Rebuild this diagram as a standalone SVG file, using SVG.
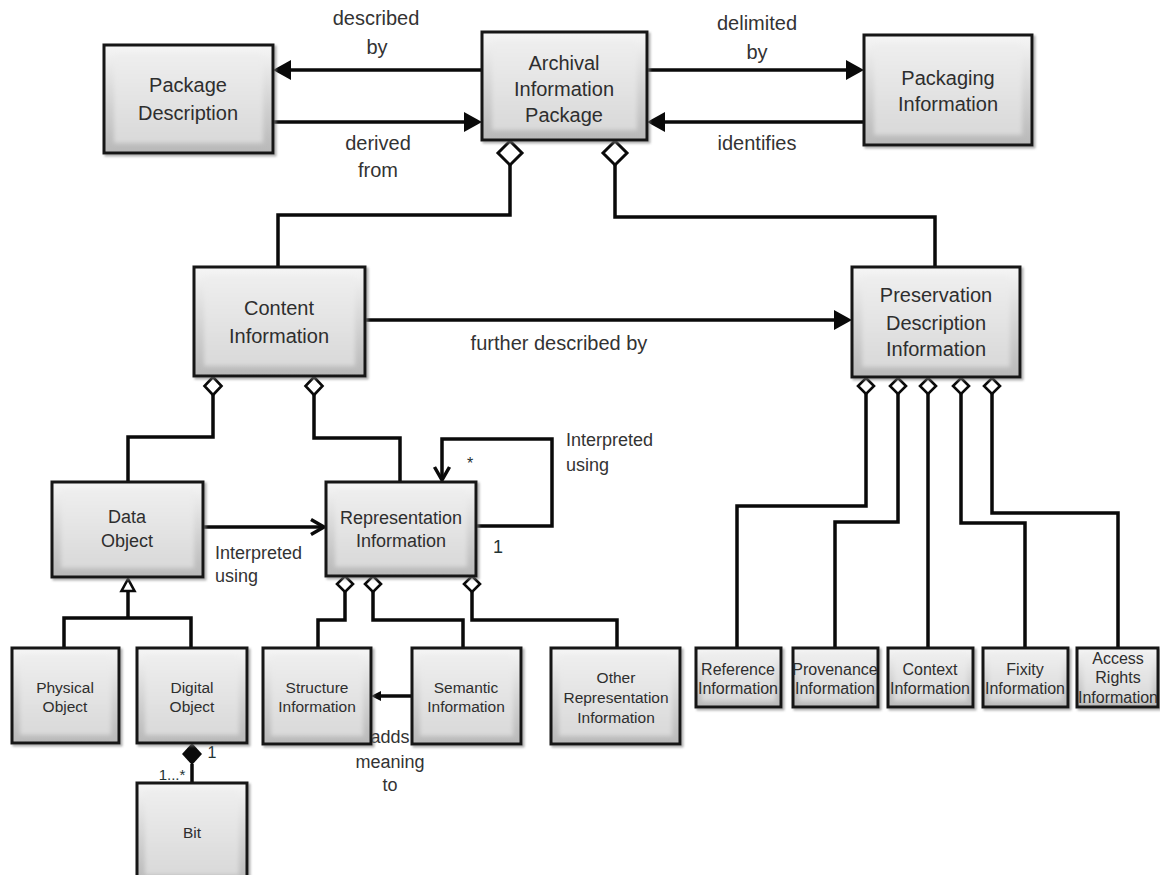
<svg xmlns="http://www.w3.org/2000/svg" width="1160" height="875" viewBox="0 0 1160 875">
  <defs>
    <linearGradient id="edge" x1="0" y1="0" x2="0" y2="1">
      <stop offset="0" stop-color="#f6f6f6"/>
      <stop offset="0.55" stop-color="#d2d2d2"/>
      <stop offset="1" stop-color="#b8b8b8"/>
    </linearGradient>
    <linearGradient id="face" x1="0" y1="0" x2="0" y2="1">
      <stop offset="0" stop-color="#eeeeee"/>
      <stop offset="1" stop-color="#d9d9d9"/>
    </linearGradient>
    <filter id="shadow" x="-10%" y="-10%" width="130%" height="130%">
      <feDropShadow dx="2" dy="2" stdDeviation="1.2" flood-color="#7a7a7a" flood-opacity="0.6"/>
    </filter>
    <filter id="soft" x="-30%" y="-30%" width="160%" height="160%">
      <feGaussianBlur stdDeviation="2.2"/>
    </filter>
    <!-- filled arrowhead, tip sits 16 units past the path end -->
    <marker id="arrow" markerUnits="userSpaceOnUse" orient="auto" refX="2" refY="10" markerWidth="18" markerHeight="20" overflow="visible">
      <path d="M0,0 L18,10 L0,20 Z" fill="#0a0a0a"/>
    </marker>
    <!-- small filled arrowhead, tip sits 9 units past the path end -->
    <marker id="arrowSm" markerUnits="userSpaceOnUse" orient="auto" refX="1" refY="5" markerWidth="10" markerHeight="10" overflow="visible">
      <path d="M0,0 L10,5 L0,10 Z" fill="#0a0a0a"/>
    </marker>
    <!-- open (stick) arrowhead -->
    <marker id="open" markerUnits="userSpaceOnUse" orient="auto" refX="14" refY="8" markerWidth="16" markerHeight="16" overflow="visible">
      <path d="M1,0.5 L14,8 L1,15.5" fill="none" stroke="#0a0a0a" stroke-width="3.5"/>
    </marker>
    <!-- hollow aggregation diamonds, placed at the start of a path -->
    <marker id="aggLg" markerUnits="userSpaceOnUse" orient="auto" refX="0" refY="0" markerWidth="26" markerHeight="28" overflow="visible">
      <path d="M0,0 L12,-12 L24,0 L12,12 Z" fill="#ffffff" stroke="#0a0a0a" stroke-width="3" stroke-linejoin="miter"/>
    </marker>
    <marker id="agg" markerUnits="userSpaceOnUse" orient="auto" refX="0" refY="0" markerWidth="20" markerHeight="20" overflow="visible">
      <path d="M0,0 L9,-8.5 L18,0 L9,8.5 Z" fill="#ffffff" stroke="#0a0a0a" stroke-width="2.6" stroke-linejoin="miter"/>
    </marker>
    <marker id="aggSm" markerUnits="userSpaceOnUse" orient="auto" refX="0" refY="0" markerWidth="18" markerHeight="18" overflow="visible">
      <path d="M0,0 L8,-8 L16,0 L8,8 Z" fill="#ffffff" stroke="#0a0a0a" stroke-width="2.6" stroke-linejoin="miter"/>
    </marker>
  </defs>

  <style>
    .edge { fill: url(#edge); stroke: #141414; stroke-width: 3; filter: url(#shadow); }
    .face { fill: url(#face); filter: url(#soft); }
    text { font-family: "Liberation Sans", Arial, sans-serif; fill: #2e2e2e; text-anchor: middle; }
    .t20 { font-size: 20px; }
    .t18 { font-size: 18px; }
    .t16 { font-size: 16px; }
    .t15 { font-size: 15.5px; }
    .lbl { font-size: 20px; fill: #333333; }
    .lbl18 { font-size: 18px; fill: #333333; }
    .left { text-anchor: start; }
    .mult { font-size: 16px; fill: #233333; }
    .wire { fill: none; stroke: #0a0a0a; stroke-width: 3.5; stroke-linejoin: miter; stroke-linecap: butt; }
  </style>

  <rect width="1160" height="875" fill="#ffffff"/>

  <!-- connectors -->
  <g id="connectors">
    <!-- package level -->
    <path class="wire" d="M482,70 H289" marker-end="url(#arrow)"/>
    <path class="wire" d="M273,122 H466" marker-end="url(#arrow)"/>
    <path class="wire" d="M647,70 H848" marker-end="url(#arrow)"/>
    <path class="wire" d="M864,122 H663" marker-end="url(#arrow)"/>
    <path class="wire" d="M510,141 V215 H278 V267" marker-start="url(#aggLg)"/>
    <path class="wire" d="M615,141 V217 H935 V267" marker-start="url(#aggLg)"/>
    <!-- content / preservation -->
    <path class="wire" d="M365,320 H836" marker-end="url(#arrow)"/>
    <path class="wire" d="M213,377 V437 H128 V482" marker-start="url(#agg)"/>
    <path class="wire" d="M314,377 V438 H400 V482" marker-start="url(#agg)"/>
    <!-- data object / representation information -->
    <path class="wire" d="M203,527 H324" marker-end="url(#open)"/>
    <path class="wire" d="M476,526 H552 V439 H442 V480" marker-end="url(#open)"/>
    <!-- generalization of data object -->
    <path class="wire" d="M128,591 V618"/>
    <path class="wire" d="M64,648 V618 H191 V648"/>
    <polygon points="128,579 121.5,591 134.5,591" fill="#ffffff" stroke="#0a0a0a" stroke-width="2.6"/>
    <!-- composition digital object / bit -->
    <path class="wire" d="M192,764 V783"/>
    <polygon points="192,743 202,754 192,765 182,754" fill="#0a0a0a"/>
    <!-- parts of representation information -->
    <path class="wire" d="M345,576 V620 H318 V648" marker-start="url(#aggSm)"/>
    <path class="wire" d="M373,576 V620 H463 V648" marker-start="url(#aggSm)"/>
    <path class="wire" d="M472,576 V620 H617 V648" marker-start="url(#aggSm)"/>
    <path class="wire" d="M412,696 H380" marker-end="url(#arrowSm)"/>
    <!-- parts of preservation description information -->
    <path class="wire" d="M866,378 V506 H737 V648" marker-start="url(#aggSm)"/>
    <path class="wire" d="M898,378 V522 H835 V648" marker-start="url(#aggSm)"/>
    <path class="wire" d="M928,378 V648" marker-start="url(#aggSm)"/>
    <path class="wire" d="M961,378 V523 H1025 V648" marker-start="url(#aggSm)"/>
    <path class="wire" d="M992,378 V513 H1118 V648" marker-start="url(#aggSm)"/>
  </g>

  <!-- connector labels -->
  <g id="labels">
    <text class="lbl" x="376" y="25">described</text>
    <text class="lbl" x="377" y="54">by</text>
    <text class="lbl" x="378" y="150">derived</text>
    <text class="lbl" x="378" y="177">from</text>
    <text class="lbl" x="757" y="30">delimited</text>
    <text class="lbl" x="757" y="59">by</text>
    <text class="lbl" x="757" y="150">identifies</text>
    <text class="lbl" x="559" y="350">further described by</text>
    <text class="lbl18 left" x="215" y="559">Interpreted</text>
    <text class="lbl18 left" x="215" y="582">using</text>
    <text class="lbl18 left" x="566" y="446">Interpreted</text>
    <text class="lbl18 left" x="566" y="471">using</text>
    <text class="mult" x="470" y="469">*</text>
    <text class="mult" x="498" y="553" style="font-size:18px">1</text>
    <text class="mult" x="212" y="758">1</text>
    <text class="mult" x="172" y="780" style="font-size:15px">1...*</text>
    <text class="lbl18" x="390" y="743">adds</text>
    <text class="lbl18" x="390" y="768">meaning</text>
    <text class="lbl18" x="390" y="791">to</text>
  </g>

  <!-- nodes -->
  <g id="package-description">
    <rect class="edge" x="104" y="45" width="169" height="108"/>
    <rect class="face" x="114" y="55" width="149" height="88"/>
    <text class="t20" x="188" y="92">Package</text>
    <text class="t20" x="188" y="120">Description</text>
  </g>
  <g id="archival-information-package">
    <rect class="edge" x="482" y="32" width="165" height="108"/>
    <rect class="face" x="492" y="42" width="145" height="88"/>
    <text class="t20" x="564" y="70">Archival</text>
    <text class="t20" x="564" y="96">Information</text>
    <text class="t20" x="564" y="122">Package</text>
  </g>
  <g id="packaging-information">
    <rect class="edge" x="864" y="35" width="168" height="110"/>
    <rect class="face" x="874" y="45" width="148" height="90"/>
    <text class="t20" x="948" y="85">Packaging</text>
    <text class="t20" x="948" y="111">Information</text>
  </g>
  <g id="content-information">
    <rect class="edge" x="194" y="267" width="171" height="109"/>
    <rect class="face" x="204" y="277" width="151" height="89"/>
    <text class="t20" x="279" y="315">Content</text>
    <text class="t20" x="279" y="343">Information</text>
  </g>
  <g id="preservation-description-information">
    <rect class="edge" x="852" y="267" width="168" height="110"/>
    <rect class="face" x="862" y="277" width="148" height="90"/>
    <text class="t20" x="936" y="302">Preservation</text>
    <text class="t20" x="936" y="330">Description</text>
    <text class="t20" x="936" y="356">Information</text>
  </g>
  <g id="data-object">
    <rect class="edge" x="52" y="482" width="151" height="95"/>
    <rect class="face" x="61" y="491" width="133" height="77"/>
    <text class="t18" x="127" y="523">Data</text>
    <text class="t18" x="127" y="547">Object</text>
  </g>
  <g id="representation-information">
    <rect class="edge" x="326" y="482" width="150" height="94"/>
    <rect class="face" x="335" y="491" width="132" height="76"/>
    <text class="t18" x="401" y="524">Representation</text>
    <text class="t18" x="401" y="547">Information</text>
  </g>
  <g id="physical-object">
    <rect class="edge" x="12" y="648" width="107" height="95"/>
    <rect class="face" x="20" y="656" width="91" height="79"/>
    <text class="t15" x="65" y="693">Physical</text>
    <text class="t15" x="65" y="712">Object</text>
  </g>
  <g id="digital-object">
    <rect class="edge" x="137" y="648" width="110" height="95"/>
    <rect class="face" x="145" y="656" width="94" height="79"/>
    <text class="t15" x="192" y="693">Digital</text>
    <text class="t15" x="192" y="712">Object</text>
  </g>
  <g id="bit">
    <rect class="edge" x="137" y="783" width="110" height="100"/>
    <rect class="face" x="145" y="791" width="94" height="84"/>
    <text class="t15" x="192" y="838">Bit</text>
  </g>
  <g id="structure-information">
    <rect class="edge" x="263" y="648" width="108" height="96"/>
    <rect class="face" x="271" y="656" width="92" height="80"/>
    <text class="t15" x="317" y="693">Structure</text>
    <text class="t15" x="317" y="712">Information</text>
  </g>
  <g id="semantic-information">
    <rect class="edge" x="412" y="648" width="109" height="96"/>
    <rect class="face" x="420" y="656" width="93" height="80"/>
    <text class="t15" x="466" y="693">Semantic</text>
    <text class="t15" x="466" y="712">Information</text>
  </g>
  <g id="other-representation-information">
    <rect class="edge" x="551" y="648" width="129" height="96"/>
    <rect class="face" x="559" y="656" width="113" height="80"/>
    <text class="t15" x="616" y="683">Other</text>
    <text class="t15" x="616" y="703">Representation</text>
    <text class="t15" x="616" y="723">Information</text>
  </g>
  <g id="reference-information">
    <rect class="edge" x="696" y="648" width="85" height="59"/>
    <rect class="face" x="702" y="654" width="73" height="47"/>
    <text class="t16" x="738" y="675">Reference</text>
    <text class="t16" x="738" y="694">Information</text>
  </g>
  <g id="provenance-information">
    <rect class="edge" x="793" y="648" width="85" height="59"/>
    <rect class="face" x="799" y="654" width="73" height="47"/>
    <text class="t16" x="835" y="675">Provenance</text>
    <text class="t16" x="835" y="694">Information</text>
  </g>
  <g id="context-information">
    <rect class="edge" x="888" y="648" width="85" height="59"/>
    <rect class="face" x="894" y="654" width="73" height="47"/>
    <text class="t16" x="930" y="675">Context</text>
    <text class="t16" x="930" y="694">Information</text>
  </g>
  <g id="fixity-information">
    <rect class="edge" x="983" y="648" width="85" height="59"/>
    <rect class="face" x="989" y="654" width="73" height="47"/>
    <text class="t16" x="1025" y="675">Fixity</text>
    <text class="t16" x="1025" y="694">Information</text>
  </g>
  <g id="access-rights-information">
    <rect class="edge" x="1077" y="648" width="81" height="59"/>
    <rect class="face" x="1083" y="654" width="69" height="47"/>
    <text class="t16" x="1118" y="664">Access</text>
    <text class="t16" x="1118" y="683">Rights</text>
    <text class="t16" x="1118" y="703">Information</text>
  </g>
</svg>
